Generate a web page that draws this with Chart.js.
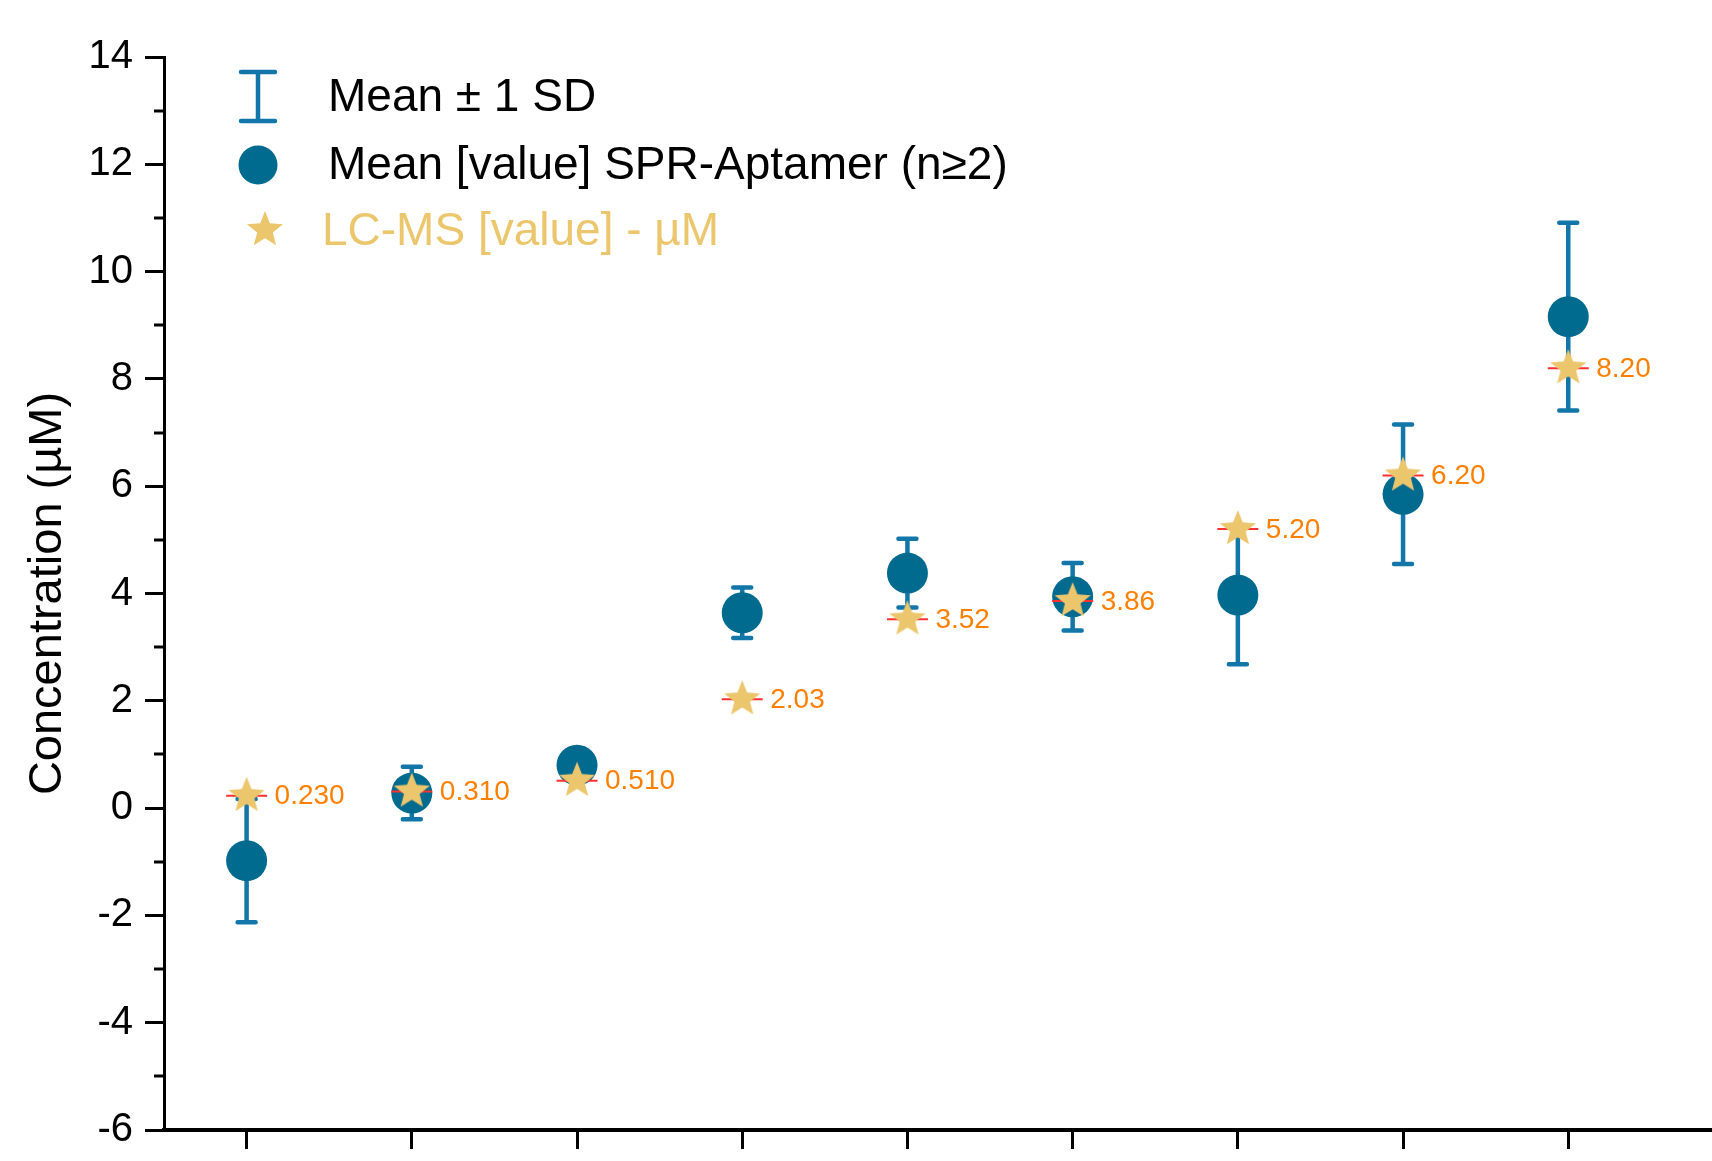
<!DOCTYPE html>
<html>
<head>
<meta charset="utf-8">
<script src="https://cdn.jsdelivr.net/npm/chart.js@4.4.0/dist/chart.umd.min.js"></script>
<style>
  html, body { margin: 0; padding: 0; background: #fff; }
</style>
</head>
<body>
<canvas id="grafico" width="1712" height="1161"></canvas>
<script>
const amostras = [1, 2, 3, 4, 5, 6, 7, 8, 9];
const media = [-0.98, 0.28, 0.80, 3.64, 4.38, 3.94, 3.97, 5.85, 9.16];
const desvio = [1.15, 0.49, 0.10, 0.47, 0.64, 0.63, 1.29, 1.30, 1.75];
const lcms = [0.23, 0.31, 0.51, 2.03, 3.52, 3.86, 5.20, 6.20, 8.20];
const ticksY = [-6, -4, -2, 0, 2, 4, 6, 8, 10, 12, 14];
const ticksYMenores = [-5, -3, -1, 1, 3, 5, 7, 9, 11, 13];

const azulPonto = '#006a8f';
const azulBarra = '#1276a8';
const dourado = '#ecc66c';
const laranja = '#ff8000';
const fonte = "'Liberation Sans', Arial, sans-serif";

Chart.defaults.font.family = fonte;
Chart.defaults.color = '#000';

// estrela cheia de 5 pontas usada como pointStyle
function estrela(rExt, rInt, cor) {
  const c = document.createElement('canvas');
  const s = Math.ceil(rExt * 2 + 2);
  c.width = s; c.height = s;
  const g = c.getContext('2d');
  g.translate(s / 2, s / 2);
  g.beginPath();
  for (let k = 0; k < 10; k++) {
    const r = k % 2 ? rInt : rExt;
    const a = -Math.PI / 2 + k * Math.PI / 5;
    g.lineTo(r * Math.cos(a), r * Math.sin(a));
  }
  g.closePath();
  g.fillStyle = cor;
  g.fill();
  return c;
}
const imgEstrela = estrela(19, 8.2, dourado);

const barrasErro = {
  id: 'barrasErro',
  beforeDatasetsDraw(chart) {
    const { ctx, scales: { x, y } } = chart;
    ctx.save();
    ctx.strokeStyle = azulBarra;
    ctx.lineWidth = 4.5;
    ctx.lineCap = 'round';
    amostras.forEach((a, i) => {
      const px = x.getPixelForValue(a);
      const topo = y.getPixelForValue(media[i] + desvio[i]);
      const base = y.getPixelForValue(media[i] - desvio[i]);
      ctx.beginPath();
      ctx.moveTo(px, topo); ctx.lineTo(px, base);
      ctx.moveTo(px - 9, topo); ctx.lineTo(px + 9, topo);
      ctx.moveTo(px - 9, base); ctx.lineTo(px + 9, base);
      ctx.stroke();
    });
    ctx.restore();
  }
};

const rotulos = {
  id: 'rotulos',
  afterDatasetsDraw(chart) {
    const { ctx, scales: { x, y } } = chart;
    ctx.save();
    ctx.font = '28px ' + fonte;
    ctx.fillStyle = laranja;
    ctx.textBaseline = 'middle';
    amostras.forEach((a, i) => {
      ctx.fillText(lcms[i].toPrecision(3), x.getPixelForValue(a) + 28, y.getPixelForValue(lcms[i]) + 1);
    });
    ctx.restore();
  }
};

const ticksMenores = {
  id: 'ticksMenores',
  afterDraw(chart) {
    const { ctx, chartArea, scales: { y } } = chart;
    ctx.save();
    ctx.strokeStyle = '#000';
    ctx.lineWidth = 3;
    ticksYMenores.forEach(v => {
      const py = Math.round(y.getPixelForValue(v));
      ctx.beginPath();
      ctx.moveTo(chartArea.left - 10, py);
      ctx.lineTo(chartArea.left, py);
      ctx.stroke();
    });
    ctx.restore();
  }
};

const legenda = {
  id: 'legenda',
  afterDraw(chart) {
    const ctx = chart.ctx;
    ctx.save();
    // barra de erro
    ctx.strokeStyle = azulBarra;
    ctx.lineWidth = 4.5;
    ctx.lineCap = 'round';
    ctx.beginPath();
    ctx.moveTo(258, 72); ctx.lineTo(258, 121);
    ctx.moveTo(241, 72); ctx.lineTo(275, 72);
    ctx.moveTo(241, 121); ctx.lineTo(275, 121);
    ctx.stroke();
    // círculo
    ctx.fillStyle = azulPonto;
    ctx.beginPath();
    ctx.arc(258, 165, 19.5, 0, Math.PI * 2);
    ctx.fill();
    // estrela
    ctx.drawImage(imgEstrela, 265 - imgEstrela.width / 2, 230 - imgEstrela.height / 2);
    ctx.font = '46px ' + fonte;
    ctx.textBaseline = 'middle';
    ctx.fillStyle = '#000';
    ctx.fillText('Mean ± 1 SD', 328, 98);
    ctx.fillText('Mean [value] SPR-Aptamer (n≥2)', 328, 166);
    ctx.fillStyle = dourado;
    ctx.fillText('LC-MS [value] - µM', 322, 232);
    ctx.restore();
  }
};

new Chart(document.getElementById('grafico'), {
  type: 'scatter',
  data: {
    datasets: [
      {
        label: 'LC-MS [value] - µM',
        data: amostras.map((a, i) => ({ x: a, y: lcms[i] })),
        pointStyle: imgEstrela,
        pointRadius: 19
      },
      {
        label: 'LC-MS linha',
        data: amostras.map((a, i) => ({ x: a, y: lcms[i] })),
        pointStyle: 'line',
        pointRadius: 20.5,
        borderColor: '#ff3030',
        pointBorderColor: '#ff3030',
        pointBorderWidth: 2
      },
      {
        label: 'Mean [value] SPR-Aptamer (n≥2)',
        data: amostras.map((a, i) => ({ x: a, y: media[i] })),
        pointRadius: 20.5,
        backgroundColor: azulPonto,
        pointBackgroundColor: azulPonto,
        pointBorderWidth: 0
      }
    ]
  },
  options: {
    responsive: false,
    animation: false,
    events: [],
    layout: { autoPadding: false, padding: { top: 57, right: 0, bottom: 0, left: 0 } },
    plugins: {
      legend: { display: false },
      tooltip: { enabled: false }
    },
    scales: {
      x: {
        type: 'linear',
        min: 0.5,
        max: 9.87,
        afterBuildTicks: s => { s.ticks = amostras.map(v => ({ value: v })); },
        afterFit: s => { s.height = 31; s.paddingLeft = 0; s.paddingRight = 0; },
        ticks: { display: false },
        grid: { drawOnChartArea: false, tickLength: 19, tickWidth: 3, tickColor: '#000' },
        border: { color: '#000', width: 4 }
      },
      y: {
        min: -6,
        max: 14,
        afterBuildTicks: s => { s.ticks = ticksY.map(v => ({ value: v })); },
        afterFit: s => { s.width = 164; s.paddingTop = 0; s.paddingBottom = 0; },
        ticks: { font: { size: 40 }, color: '#000', padding: 12 },
        grid: { drawOnChartArea: false, tickLength: 19, tickWidth: 3, tickColor: '#000' },
        border: { color: '#000', width: 3 },
        title: {
          display: true,
          text: 'Concentration (µM)',
          font: { size: 47 },
          color: '#000',
          padding: { top: 20, bottom: 0 }
        }
      }
    }
  },
  plugins: [barrasErro, rotulos, ticksMenores, legenda]
});
</script>
</body>
</html>
